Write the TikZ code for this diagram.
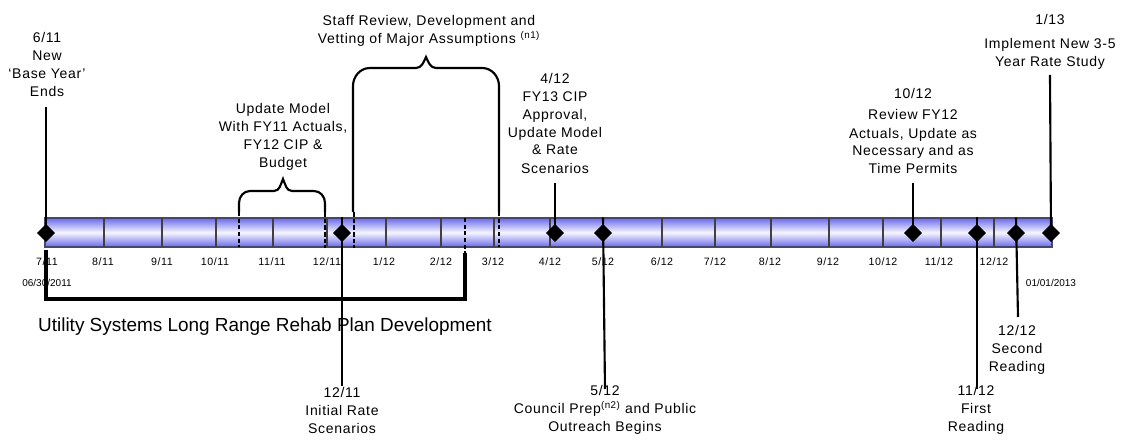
\documentclass[tikz,border=0pt]{standalone}
\usepackage{fontspec}
\setmainfont{Liberation Sans}
\newfontfamily\lsfont{Liberation Sans}[LetterSpace=5]
\usetikzlibrary{shapes.geometric,fit}
\newcommand{\lblfont}{\lsfont\fontsize{10.5}{13.5}\selectfont}
\definecolor{barblue}{RGB}{105,105,235}
\definecolor{barlight}{RGB}{246,246,255}
\definecolor{baredge}{RGB}{70,70,110}
\tikzset{
  lbl/.style={align=center, font=\lblfont, inner sep=0pt},
  mlbl/.style={font=\lsfont\fontsize{8}{9.6}\selectfont, inner sep=0pt},
  dlbl/.style={font=\fontsize{7.5}{9}\selectfont, inner sep=0pt},
  bigl/.style={font=\fontsize{14.2}{17}\selectfont, inner sep=0pt},
  barbox/.style={draw=baredge, line width=0.8pt, top color=barblue, bottom color=barblue, middle color=barlight, inner sep=0pt},
  mline/.style={draw=black!75, line width=0.8pt},
  lead/.style={draw=black, line width=1.6pt},
  bracebar/.style={draw=black, line width=1.6pt},
  thickbr/.style={draw=black, line width=2.5pt},
  tdash/.style={draw=black, line width=0.9pt, dash pattern=on 3pt off 2pt},
  kdash/.style={draw=black, line width=2.2pt, dash pattern=on 3.5pt off 1.5pt},
  milestone/.style={diamond, fill=black, minimum width=13pt, minimum height=13pt, inner sep=0pt},
}
\begin{document}
\begin{tikzpicture}[x=0.75pt, y=-0.75pt]
\useasboundingbox (0,0) rectangle (1122,441);
% bar
\coordinate (b1) at (45,218);
\coordinate (b2) at (1052,247);
\node[barbox, fit=(b1)(b2)] (bar) {};
% month lines and labels
\foreach \x [count=\i] in {45, 104, 162, 216, 273, 327, 386, 441, 494, 550, 603, 662, 715, 771, 829, 883, 941, 994} {
  \coordinate (mt\i) at (\x,218);
  \coordinate (mb\i) at (\x,247);
}
\foreach \i in {2,...,18} { \draw[mline] (mt\i) -- (mb\i); }
\foreach \x/\t [count=\i] in {47/{7/11}, 103/{8/11}, 162/{9/11}, 215/{10/11}, 272/{11/11}, 327/{12/11}, 384/{1/12}, 441/{2/12}, 493/{3/12}, 550/{4/12}, 603/{5/12}, 662/{6/12}, 715/{7/12}, 770/{8/12}, 828/{9/12}, 883/{10/12}, 939/{11/12}, 994/{12/12}} {
  \node[mlbl] (ml\i) at (\x,262) {\t};
}
\node[dlbl] (dstart) at (47,283) {06/30/2011};
\node[dlbl] (dend) at (1051,283) {01/01/2013};
% diamonds
\node[milestone] (d611) at (46,233) {};
\node[milestone] (d1211) at (342,233) {};
\node[milestone] (d412) at (555,233) {};
\node[milestone] (d512) at (603,233) {};
\node[milestone] (d1012) at (913,233) {};
\node[milestone] (d1112) at (977,233) {};
\node[milestone] (d1212) at (1016,233) {};
\node[milestone] (d113) at (1051,233) {};
% texts
\node[lbl] (t611) at (47,65) {6/11\\New\\‘Base Year’\\Ends};
\node[lbl] (tupd) at (283,137) {Update Model\\With FY11 Actuals,\\FY12 CIP \&\\Budget};
\node[lbl] (tstaff) at (429,31) {Staff Review, Development and\\Vetting of Major Assumptions \textsuperscript{(n1)}};
\node[lbl] (t412) at (555,123) {4/12\\FY13 CIP\\Approval,\\Update Model\\\& Rate\\Scenarios};
\node[lbl] (t1012) at (913,131) {10/12\\[3pt]Review FY12\\Actuals, Update as\\Necessary and as\\Time Permits};
\node[lbl] (t113) at (1050,42) {1/13\\[4pt]Implement New 3-5\\Year Rate Study};
\node[bigl] (tutil) at (265,327) {Utility Systems Long Range Rehab Plan Development};
\node[lbl] (t1211) at (342,410) {12/11\\Initial Rate\\Scenarios};
\node[lbl] (t512) at (605,410) {5/12\\Council Prep\textsuperscript{(n2)} and Public\\Outreach Begins};
\node[lbl] (t1112) at (976,410) {11/12\\First\\Reading};
\node[lbl] (t1212) at (1017,350) {12/12\\Second\\Reading};
% free ends of leaders
\coordinate (e611) at (46,107);
\coordinate (e412) at (555,183);
\coordinate (e1012) at (913,183);
\coordinate (e113) at (1050,75);
\coordinate (e1211) at (342,386);
\coordinate (e512) at (605,389);
\coordinate (e1112) at (977,389);
\coordinate (e1212) at (1018,317);
% dashed continuations
\draw[tdash] (239,212) -- (239,247);
\draw[kdash] (325,212) -- (325,248);
\draw[kdash] (354,212) -- (354,248);
\draw[tdash] (499,212) -- (499,247);
\draw[tdash] (465,218) -- (465,254);
% braces
\draw[bracebar] (239,212) -- (239,203) to[out=90,in=180] (250,191) -- (274,191) to[out=0,in=-115] (283,179) to[out=-65,in=180] (292,191) -- (314,191) to[out=0,in=90] (325,203) -- (325,212);
\draw[bracebar] (353,212) -- (353,86) to[out=90,in=180] (370,68) -- (416,68) to[out=0,in=-115] (426,57) to[out=-65,in=180] (436,68) -- (482,68) to[out=0,in=90] (499,86) -- (499,212);
% long range bracket
\draw[thickbr] (46,250) -- (46,299) -- (465,299) -- (465,253);
% leaders
\draw[lead] (e611) -- (d611.center);
\draw[lead] (e412) -- (d412.center);
\draw[lead] (e1012) -- (d1012.center);
\draw[lead] (e113) -- (d113.center);
\draw[lead] (d1211 |- bar.north) -- (e1211);
\draw[lead] (d512 |- bar.north) -- (e512);
\draw[lead] (d1112 |- bar.north) -- (e1112);
\draw[lead] (d1212 |- bar.north) -- (e1212);
% redraw diamonds on top
\foreach \n in {d611,d1211,d412,d512,d1012,d1112,d1212,d113} {
  \fill (\n.north) -- (\n.east) -- (\n.south) -- (\n.west) -- cycle;
}
\end{tikzpicture}
\end{document}
